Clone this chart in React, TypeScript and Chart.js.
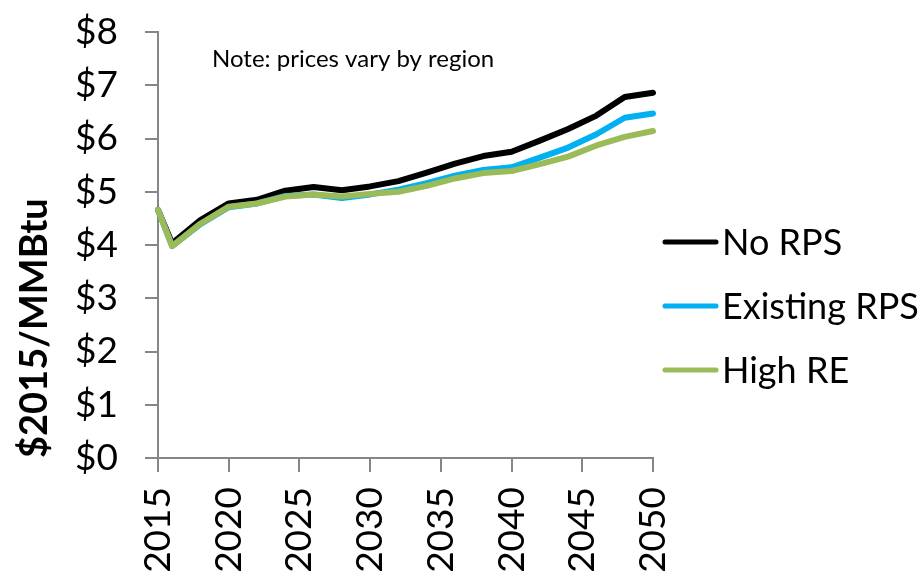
import React, { useEffect, useRef } from "react";
import { Chart, registerables } from "chart.js";

Chart.register(...registerables);

const years = [2015, 2016, 2018, 2020, 2022, 2024, 2026, 2028, 2030, 2032, 2034, 2036, 2038, 2040, 2042, 2044, 2046, 2048, 2050];
const noRps = [4.66, 4.03, 4.47, 4.78, 4.85, 5.02, 5.09, 5.03, 5.10, 5.20, 5.36, 5.53, 5.67, 5.75, 5.96, 6.18, 6.43, 6.78, 6.86];
const existingRps = [4.66, 3.98, 4.39, 4.71, 4.78, 4.92, 4.95, 4.88, 4.95, 5.04, 5.16, 5.30, 5.41, 5.46, 5.64, 5.83, 6.08, 6.39, 6.47];
const highRe = [4.66, 3.98, 4.40, 4.72, 4.78, 4.91, 4.95, 4.91, 4.96, 5.00, 5.11, 5.25, 5.35, 5.39, 5.52, 5.66, 5.87, 6.03, 6.14];

const seriesNames = ["No RPS", "Existing RPS", "High RE"];
const seriesColors = ["#000000", "#00B0F0", "#9BBB59"];
const yAxisTitle = "$2015/MMBtu";
const noteText = "Note: prices vary by region";

const FONT = "Lato";

const customPlugin = {
  id: "customLegendNote",
  afterDraw(chart: any) {
    const ctx = chart.ctx;
    ctx.save();
    // note
    ctx.font = `24px ${FONT}`;
    ctx.fillStyle = "#000";
    ctx.textAlign = "left";
    ctx.textBaseline = "alphabetic";
    ctx.fillText(noteText, 212, 67);
    // legend
    const ys = [242, 306, 370];
    chart.data.datasets.forEach((ds: any, i: number) => {
      const y = ys[i];
      ctx.beginPath();
      ctx.strokeStyle = ds.borderColor;
      ctx.lineWidth = 5;
      ctx.lineCap = "round";
      ctx.moveTo(665, y);
      ctx.lineTo(716, y);
      ctx.stroke();
      ctx.font = `36px ${FONT}`;
      ctx.fillStyle = "#000";
      ctx.textBaseline = "middle";
      ctx.fillText(ds.label, 722, y + 1);
    });
    ctx.restore();
  },
};

export default function App() {
  const ref = useRef<HTMLCanvasElement>(null);
  useEffect(() => {
    if (!ref.current) return;
    const values = [noRps, existingRps, highRe];
    const chart = new Chart(ref.current, {
      type: "line",
      data: {
        datasets: seriesNames.map((name, i) => ({
          label: name,
          data: years.map((y, j) => ({ x: y, y: values[i][j] })),
          borderColor: seriesColors[i],
          backgroundColor: seriesColors[i],
          borderWidth: 6,
          pointRadius: 0,
          tension: 0,
          borderJoinStyle: "round" as const,
          borderCapStyle: "round" as const,
          order: 3 - i,
          clip: 10,
        })),
      },
      options: {
        animation: false,
        responsive: false,
        layout: { padding: { top: 32, right: 265, left: 0, bottom: 0 } },
        plugins: { legend: { display: false }, tooltip: { enabled: false } },
        scales: {
          x: {
            type: "linear",
            min: 2015,
            max: 2050,
            afterFit: (s: any) => { s.height = 115; s.paddingLeft = 0; s.paddingRight = 0; },
            ticks: {
              stepSize: 5,
              autoSkip: false,
              maxRotation: 90,
              minRotation: 90,
              padding: 15,
              color: "#000",
              font: { family: FONT, size: 37 },
              callback: (v: any) => String(v),
            },
            grid: { drawOnChartArea: false, drawTicks: true, tickLength: 14, color: "#868686", lineWidth: 2 },
            border: { color: "#868686", width: 2 },
          },
          y: {
            min: 0,
            max: 8,
            afterFit: (s: any) => { s.width = 158; s.paddingTop = 0; s.paddingBottom = 0; },
            ticks: {
              stepSize: 1,
              padding: 27,
              color: "#000",
              font: { family: FONT, size: 37 },
              callback: (v: any) => "$" + v,
            },
            grid: { drawOnChartArea: false, drawTicks: true, tickLength: 13, color: "#868686", lineWidth: 2 },
            border: { color: "#868686", width: 2 },
            title: {
              display: true,
              text: yAxisTitle,
              align: "start",
              color: "#000",
              font: { family: FONT, size: 38, weight: "bold", lineHeight: 1 },
              padding: { top: 16, bottom: 0 },
            },
          },
        },
      },
      plugins: [customPlugin],
    });
    return () => chart.destroy();
  }, []);
  return (
    <div style={{ position: "fixed", left: 0, top: 0, width: 918, height: 573, background: "#fff" }}>
      <canvas ref={ref} width={918} height={573} style={{ display: "block" }} />
    </div>
  );
}
